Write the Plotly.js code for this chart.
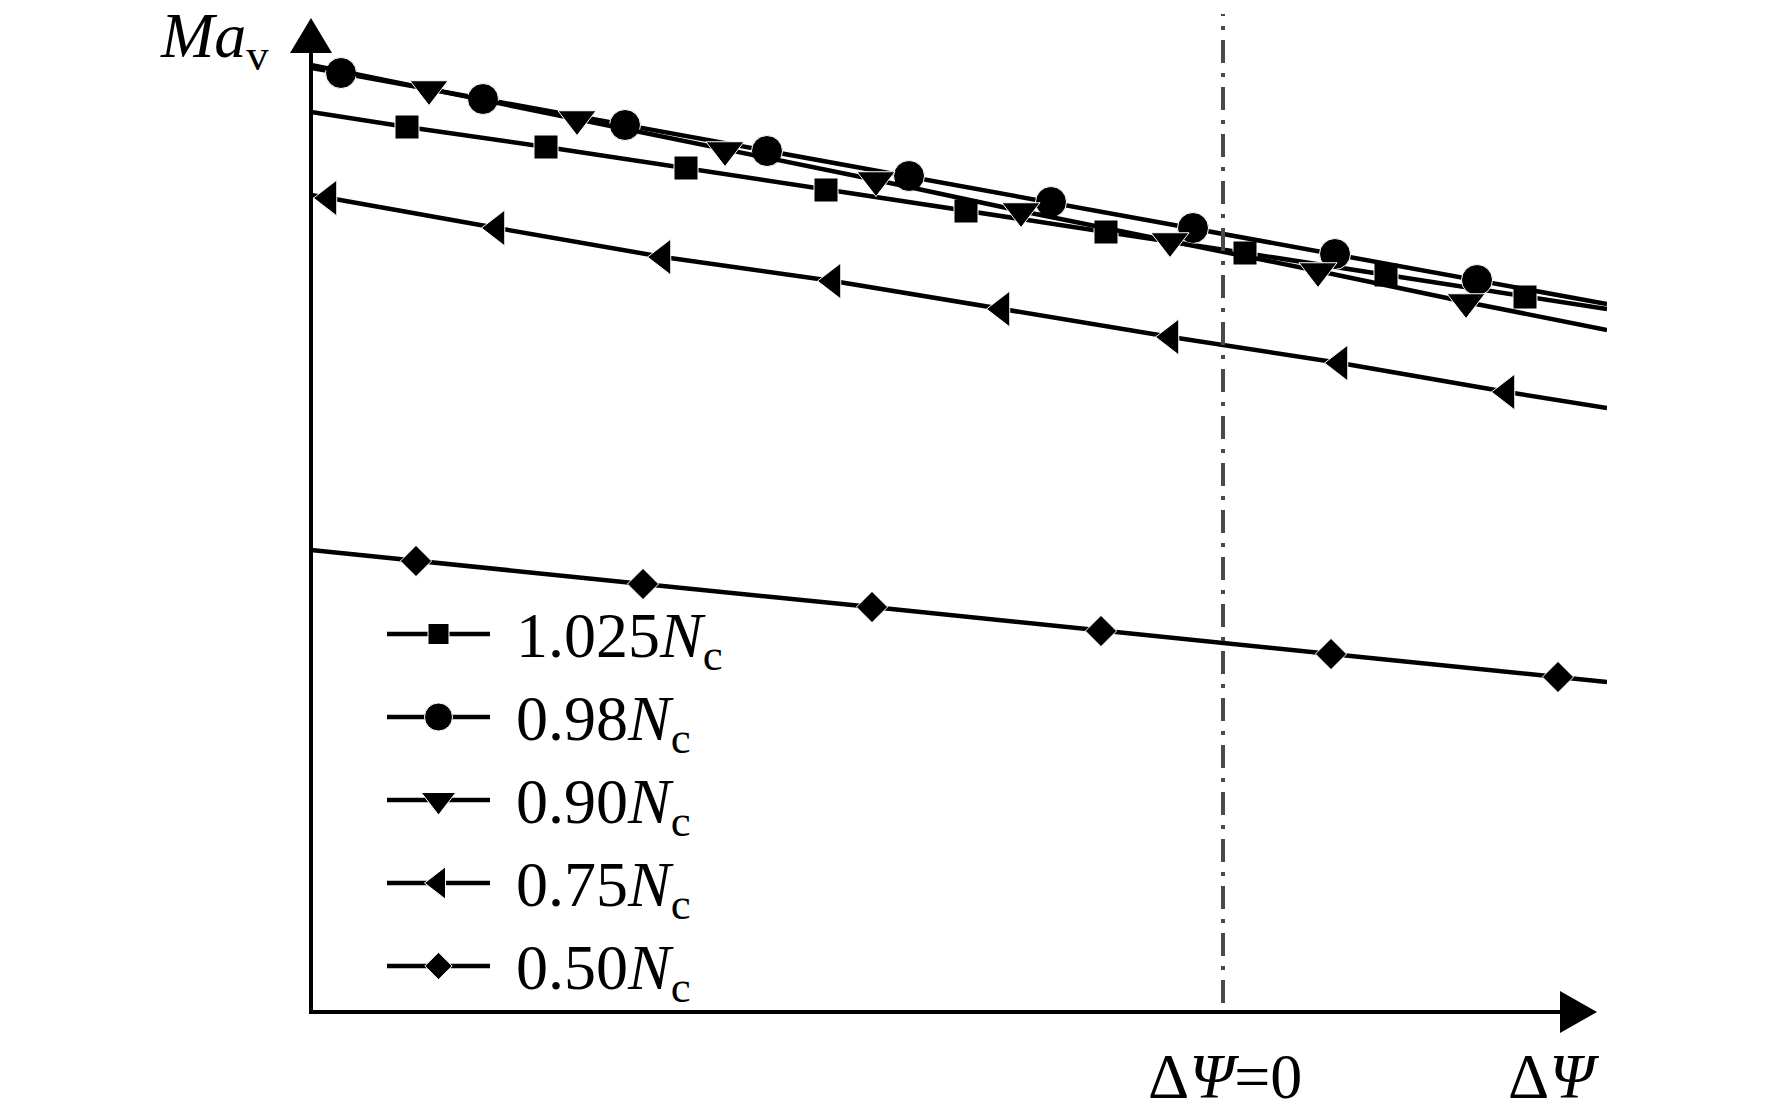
<!DOCTYPE html>
<html>
<head>
<meta charset="utf-8">
<script src="https://cdn.plot.ly/plotly-3.0.1.min.js"></script>
<style>
  html, body { margin: 0; padding: 0; background: #fff; }
  #chart { width: 1772px; height: 1116px; }
</style>
</head>
<body>
<div id="chart"></div>
<script>
// series labels, speed as a fraction of the choke speed Nc
var labels = [
  "1.025<i>N</i><sub>c</sub>",
  "0.98<i>N</i><sub>c</sub>",
  "0.90<i>N</i><sub>c</sub>",
  "0.75<i>N</i><sub>c</sub>",
  "0.50<i>N</i><sub>c</sub>"
];
var symbols = ["square", "circle", "triangle-down", "triangle-left", "diamond"];
var markerSizes = [24, 31, 33, 31, 24];

// ΔΨ (no scale in the figure, 0 = design point) and Ma_v
// first and last values are the line ends, the rest carry a marker
var x1025 = [-9.12, -8.16, -6.77, -5.37, -3.97, -2.57, -1.17, 0.22, 1.63, 3.02, 3.84];
var y1025 = [9.00, 8.85, 8.65, 8.44, 8.22, 8.01, 7.80, 7.59, 7.37, 7.15, 7.03];

var x098 = [-9.12, -8.82, -7.40, -5.98, -4.56, -3.14, -1.72, -0.30, 1.12, 2.54, 3.84];
var y098 = [9.44, 9.39, 9.13, 8.87, 8.61, 8.36, 8.10, 7.84, 7.58, 7.32, 7.08];

var x090 = [-9.12, -7.94, -6.46, -4.98, -3.47, -2.02, -0.53, 0.95, 2.43, 3.84];
var y090 = [9.47, 9.23, 8.93, 8.62, 8.32, 8.01, 7.71, 7.41, 7.10, 6.82];

var x075 = [-9.12, -8.94, -7.26, -5.60, -3.90, -2.21, -0.52, 1.17, 2.84, 3.84];
var y075 = [8.17, 8.14, 7.84, 7.55, 7.31, 7.03, 6.75, 6.49, 6.20, 6.04];

var x050 = [-9.12, -8.07, -5.80, -3.51, -1.22, 1.08, 3.35, 3.84];
var y050 = [4.62, 4.51, 4.28, 4.05, 3.81, 3.58, 3.35, 3.30];

var xs = [x1025, x098, x090, x075, x050];
var ys = [y1025, y098, y090, y075, y050];

// page geometry (pixels)
var W = 1772, H = 1116;
var L = 311, R = 1607, T = 18, B = 1012;
function px(v) { return (v - L) / (R - L); }
function py(v) { return (B - v) / (B - T); }

var font = "'Liberation Serif', 'Times New Roman', Times, serif";

var traces = [];
for (var i = 0; i < xs.length; i++) {
  var n = xs[i].length;
  traces.push({
    type: "scatter",
    mode: "lines+markers",
    x: xs[i],
    y: ys[i],
    line: { color: "#000", width: 4.5 },
    marker: {
      symbol: symbols[i],
      color: "#000",
      opacity: 1,
      size: xs[i].map(function (v, k) { return (k === 0 || k === n - 1) ? 0 : markerSizes[i]; })
    },
    showlegend: false,
    hoverinfo: "skip"
  });
}

// hand-made legend on a pixel overlay
var legTop = 634, legGap = 83, legX0 = 387, legX1 = 490;
var annotations = [];
for (var j = 0; j < labels.length; j++) {
  var ry = legTop + j * legGap;
  traces.push({
    type: "scatter",
    mode: "lines+markers",
    xaxis: "x2", yaxis: "y2",
    x: [legX0, (legX0 + legX1) / 2, legX1],
    y: [ry, ry, ry],
    line: { color: "#000", width: 4.5 },
    marker: { symbol: symbols[j], color: "#000", opacity: 1, size: [0, markerSizes[j] - 3, 0] },
    showlegend: false,
    hoverinfo: "skip"
  });
  annotations.push({
    xref: "x2", yref: "y2", x: 514, y: ry + 6,
    xanchor: "left", yanchor: "middle", showarrow: false,
    text: labels[j], font: { family: font, size: 64, color: "#000" }
  });
}

annotations.push(
  { xref: "paper", yref: "paper", x: px(158), y: py(40), xanchor: "left", yanchor: "middle",
    showarrow: false, text: "<i>Ma</i><sub>v</sub>", font: { family: font, size: 64, color: "#000" } },
  { xref: "paper", yref: "paper", x: px(1225), y: py(1076), xanchor: "center", yanchor: "middle",
    showarrow: false, text: "Δ<i>Ψ</i>=0", font: { family: font, size: 64, color: "#000" } },
  { xref: "paper", yref: "paper", x: px(1553), y: py(1076), xanchor: "center", yanchor: "middle",
    showarrow: false, text: "Δ<i>Ψ</i>", font: { family: font, size: 64, color: "#000" } }
);

var shapes = [
  // y axis with arrow
  { type: "line", xref: "paper", yref: "paper", x0: 0, x1: 0, y0: py(B + 2), y1: py(50),
    line: { color: "#000", width: 4 } },
  { type: "path", xref: "paper", yref: "paper",
    path: "M" + px(290) + "," + py(53) + " L" + px(311) + "," + py(18) + " L" + px(332) + "," + py(53) + " Z",
    fillcolor: "#000", line: { width: 0 } },
  // x axis with arrow
  { type: "line", xref: "paper", yref: "paper", x0: px(L - 2), x1: px(1564), y0: 0, y1: 0,
    line: { color: "#000", width: 4 } },
  { type: "path", xref: "paper", yref: "paper",
    path: "M" + px(1560) + "," + py(991) + " L" + px(1597) + "," + py(1012) + " L" + px(1560) + "," + py(1033) + " Z",
    fillcolor: "#000", line: { width: 0 } },
  // ΔΨ = 0 marker line
  { type: "line", xref: "x", yref: "paper", x0: 0, x1: 0, y0: py(1003), y1: py(14),
    line: { color: "#4a4a4a", width: 4, dash: "23px,10px,4px,10px" } }
];

var layout = {
  width: W,
  height: H,
  margin: { l: L, r: W - R, t: T, b: H - B, pad: 0 },
  paper_bgcolor: "#fff",
  plot_bgcolor: "rgba(0,0,0,0)",
  showlegend: false,
  xaxis: { range: [-9.12, 3.84], visible: false, fixedrange: true },
  yaxis: { range: [0, 9.94], visible: false, fixedrange: true },
  xaxis2: { range: [L, R], domain: [0, 1], anchor: "y2", visible: false, fixedrange: true },
  yaxis2: { range: [B, T], domain: [0, 1], anchor: "x2", visible: false, fixedrange: true },
  shapes: shapes,
  annotations: annotations
};

Plotly.newPlot("chart", traces, layout, { displayModeBar: false, staticPlot: true });
</script>
</body>
</html>
